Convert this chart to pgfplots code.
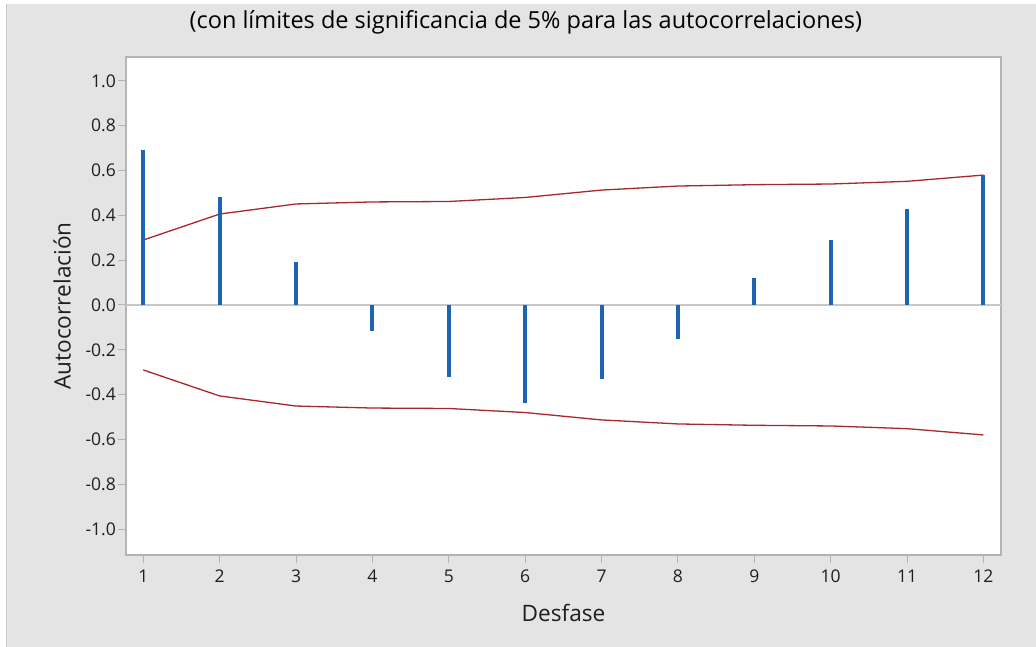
\documentclass[border=0pt]{standalone}
\usepackage{pgfplots}
\pgfplotsset{compat=1.18}
\usepackage{fontspec}
\setmainfont{Open Sans}
\definecolor{bg}{HTML}{E4E4E4}
\definecolor{axgray}{HTML}{B4B4B4}
\definecolor{zerogray}{HTML}{C8C8C8}
\definecolor{barblue}{HTML}{1F63B5}
\definecolor{limred}{HTML}{A8282C}
\definecolor{txt}{HTML}{1E1E1E}
\pgfplotstableread{
lag acf
1 0.690
2 0.483
3 0.190
4 -0.118
5 -0.320
6 -0.438
7 -0.330
8 -0.153
9 0.120
10 0.290
11 0.427
12 0.580
}\acfdata
\pgfplotstableread{
lag up lo
1 0.290 -0.290
2 0.406 -0.406
3 0.451 -0.451
4 0.460 -0.460
5 0.462 -0.462
6 0.480 -0.480
7 0.513 -0.513
8 0.531 -0.531
9 0.537 -0.537
10 0.540 -0.540
11 0.552 -0.552
12 0.580 -0.580
}\limdata
\begin{document}
\begin{tikzpicture}[x=1pt,y=1pt]
\useasboundingbox (0,0) rectangle (1036,-647);
\fill[white] (0,0) rectangle (1036,-647);
\fill[bg] (6,-4) rectangle (1036,-647);
\draw[black!22, line width=1pt] (6.5,-4) -- (6.5,-647);
\begin{axis}[
  at={(126pt,-57pt)}, anchor=north west,
  width=875pt, height=498pt, scale only axis,
  xmin=0.774, xmax=12.23, ymin=-1.116, ymax=1.107,
  axis background/.style={fill=white},
  axis line style={draw=axgray, line width=1.5pt},
  xtick={1,...,12},
  ytick={-1,-0.8,...,1.01},
  tick align=outside, xtick pos=bottom, ytick pos=left,
  major tick length=8pt,
  tick style={draw=axgray, line width=1pt},
  /pgf/number format/assume math mode=true,
  yticklabel style={/pgf/number format/.cd, fixed, fixed zerofill, precision=1, /tikz/.cd, font=\fontsize{17.5}{20}\selectfont, text=txt, inner xsep=2pt},
  xticklabel style={font=\fontsize{17.5}{20}\selectfont, text=txt, yshift=-3pt},
  title={(con límites de significancia de 5\% para las autocorrelaciones)},
  title style={at={(axis description cs:0.457,1.058)}, anchor=center, font=\fontsize{23.5}{27}\selectfont, text=black},
  xlabel={Desfase},
  every axis x label/.style={at={(axis description cs:0.5,-0.1165)}, anchor=center, font=\fontsize{22.6}{26}\selectfont, text=txt},
  ylabel={Autocorrelación},
  every axis y label/.style={at={(axis description cs:-0.0731,0.5)}, rotate=90, anchor=center, font=\fontsize{22.6}{26}\selectfont, text=txt},
  clip=false,
]
\addplot[draw=zerogray, line width=2pt, forget plot] coordinates {(0.774,0) (12.23,0)};
\addplot[draw=limred, line width=1.3pt] table[x=lag, y=up] {\limdata};
\addplot[draw=limred, line width=1.3pt] table[x=lag, y=lo] {\limdata};
\addplot[ycomb, draw=barblue, line width=4pt, mark=none] table[x=lag, y=acf] {\acfdata};
\end{axis}
\end{tikzpicture}
\end{document}
